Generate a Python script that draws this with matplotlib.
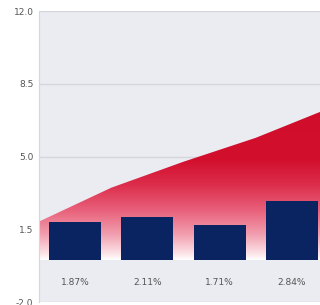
import numpy as np
import matplotlib.pyplot as plt
from matplotlib.colors import LinearSegmentedColormap
from matplotlib.patches import Polygon

# Data
categories = ["1.87%", "2.11%", "1.71%", "2.84%"]
bar_values = [1.87, 2.11, 1.71, 2.84]
area_x = [-0.5, 0.5, 1.5, 2.5, 3.5]
area_values = [1.87, 3.5, 4.75, 5.9, 7.3]
y_ticks = [-2.0, 1.5, 5.0, 8.5, 12.0]

fig = plt.figure(figsize=(3.2, 3.05), dpi=100)
ax = fig.add_axes([0.122, 0.0098, 0.903, 0.954])
ax.set_facecolor("#ebebf2")

x = np.arange(len(categories))

# Gradient area: red at top fading to white at the baseline
top = 7.5
cmap = LinearSegmentedColormap.from_list(
    "redfade",
    [(0.0, "#ffffff"), (0.3 / top, "#fbe3e7"), (1.2 / top, "#f2a0b0"),
     (2.4 / top, "#e8607a"), (3.6 / top, "#dc2e4c"), (4.8 / top, "#d2102e"),
     (1.0, "#d00c2a")])
grad = np.linspace(0, 1, 256).reshape(-1, 1)
img = ax.imshow(grad, cmap=cmap, origin="lower", aspect="auto",
                extent=[-0.5, 3.5, 0, top], vmin=0, vmax=1, zorder=1)
verts = [(area_x[0], 0)] + list(zip(area_x, area_values)) + [(area_x[-1], 0)]
poly = Polygon(verts, closed=True, transform=ax.transData, facecolor="none", edgecolor="none")
ax.add_patch(poly)
img.set_clip_path(poly)

# Bars
ax.bar(x, bar_values, width=0.72, color="#0a2462", zorder=3)

# Percentage labels under bars
for xi, lab in zip(x, categories):
    ax.text(xi, -1.05, lab, ha="center", va="center", fontsize=6.5, color="#555555")

ax.set_xlim(-0.5, 3.5)
ax.set_ylim(-2.0, 12.0)
ax.set_yticks(y_ticks)
ax.set_yticklabels([f"{v:.1f}" for v in y_ticks], fontsize=6.5, color="#555555")
ax.set_xticks([])
ax.tick_params(axis="y", length=0, pad=4)
ax.grid(axis="y", color="#d6d6de", linewidth=1, zorder=0)
ax.set_axisbelow(True)

for side in ["top", "right", "bottom"]:
    ax.spines[side].set_visible(False)
ax.spines["left"].set_color("#d6d6de")

fig.savefig("out.png", dpi=100)
